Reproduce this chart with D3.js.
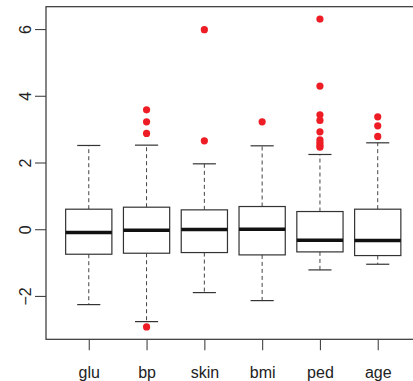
<!DOCTYPE html>
<html>
<head>
<meta charset="utf-8">
<script src="https://cdn.jsdelivr.net/npm/d3@7"></script>
<style>
  html, body { margin: 0; padding: 0; background: #fff; }
  svg { display: block; font-family: "Liberation Sans", Arial, sans-serif; }
</style>
</head>
<body>
<svg id="chart" width="413" height="381"></svg>
<script>
// boxplot of standardised variables (R-style)

const categories = ["glu", "bp", "skin", "bmi", "ped", "age"];
const whiskerLo  = [-2.26, -2.77, -1.90, -2.14, -1.22, -1.05];
const q1         = [-0.75, -0.72, -0.70, -0.77, -0.68, -0.79];
const medians    = [-0.10, -0.03, -0.01,  0.00, -0.33, -0.34];
const q3         = [ 0.60,  0.66,  0.58,  0.68,  0.53,  0.60];
const whiskerHi  = [ 2.51,  2.52,  1.96,  2.50,  2.24,  2.59];
const outliers = [
  [],
  [3.58, 3.22, 2.87, -2.93],
  [5.98, 2.65],
  [3.22],
  [6.30, 4.29, 3.43, 3.26, 2.92, 2.68, 2.60, 2.52, 2.46],
  [3.37, 3.10, 2.78]
];
const yTicks = [-2, 0, 2, 4, 6];

const svg = d3.select("#chart");
const plotLeft = 46, plotTop = 6.7, plotBottom = 339.3;

const x = d3.scaleLinear().domain([0.26, 6.74]).range([plotLeft, 420.5]);
const y = d3.scaleLinear().domain([-3.30, 6.67]).range([plotBottom, plotTop]);

const step = x(2) - x(1);
const boxW = step * 0.8;
const capW = boxW * 0.5;

const rows = categories.map((c, i) => ({
  name: c, pos: i + 1,
  lo: whiskerLo[i], q1: q1[i], med: medians[i], q3: q3[i], hi: whiskerHi[i],
  out: outliers[i]
}));

// frame
svg.append("rect")
  .attr("x", plotLeft).attr("y", plotTop)
  .attr("width", x(6.74) - plotLeft).attr("height", plotBottom - plotTop)
  .attr("fill", "none").attr("stroke", "#333").attr("stroke-width", 1.2);

// y axis
const yAxis = svg.append("g")
  .attr("transform", `translate(${plotLeft},0)`)
  .call(d3.axisLeft(y).tickValues(yTicks).tickSize(11).tickFormat(d => d < 0 ? "\u2212" + Math.abs(d) : d));
yAxis.select(".domain").remove();
yAxis.selectAll(".tick line").attr("stroke", "#444").attr("stroke-width", 1.1);
yAxis.selectAll(".tick text")
  .attr("x", 0).attr("y", 0).attr("dy", 0)
  .attr("transform", "translate(-15.5,0) rotate(-90)")
  .attr("text-anchor", "middle")
  .attr("font-size", 16).attr("fill", "#222");

// x axis
const xAxis = svg.append("g")
  .attr("transform", `translate(0,${plotBottom})`)
  .call(d3.axisBottom(x).tickValues(rows.map(d => d.pos)).tickSize(11)
    .tickFormat(d => categories[d - 1]));
xAxis.select(".domain").remove();
xAxis.selectAll(".tick line").attr("stroke", "#444").attr("stroke-width", 1.1);
xAxis.selectAll(".tick text")
  .attr("y", 0).attr("dy", 0)
  .attr("transform", "translate(0,38.5)")
  .attr("font-size", 16).attr("fill", "#222");

const g = svg.append("g").selectAll("g").data(rows).join("g");

// whiskers
g.append("line")
  .attr("x1", d => x(d.pos)).attr("x2", d => x(d.pos))
  .attr("y1", d => y(d.q3)).attr("y2", d => y(d.hi))
  .attr("stroke", "#444").attr("stroke-dasharray", "4,3");
g.append("line")
  .attr("x1", d => x(d.pos)).attr("x2", d => x(d.pos))
  .attr("y1", d => y(d.q1)).attr("y2", d => y(d.lo))
  .attr("stroke", "#444").attr("stroke-dasharray", "4,3");

// caps
g.selectAll("line.cap")
  .data(d => [{ pos: d.pos, v: d.hi }, { pos: d.pos, v: d.lo }])
  .join("line").attr("class", "cap")
  .attr("x1", d => x(d.pos) - capW / 2).attr("x2", d => x(d.pos) + capW / 2)
  .attr("y1", d => y(d.v)).attr("y2", d => y(d.v))
  .attr("stroke", "#333").attr("stroke-width", 1.2);

// boxes
g.append("rect")
  .attr("x", d => x(d.pos) - boxW / 2)
  .attr("y", d => y(d.q3))
  .attr("width", boxW)
  .attr("height", d => y(d.q1) - y(d.q3))
  .attr("fill", "#fff").attr("stroke", "#333").attr("stroke-width", 1.2);

// medians
g.append("line")
  .attr("x1", d => x(d.pos) - boxW / 2).attr("x2", d => x(d.pos) + boxW / 2)
  .attr("y1", d => y(d.med)).attr("y2", d => y(d.med))
  .attr("stroke", "#111").attr("stroke-width", 3.5);

// outliers
g.selectAll("circle")
  .data(d => d.out.map(v => ({ pos: d.pos, v })))
  .join("circle")
  .attr("cx", d => x(d.pos)).attr("cy", d => y(d.v))
  .attr("r", 3.6)
  .attr("fill", "#ee1d25");
</script>
</body>
</html>
